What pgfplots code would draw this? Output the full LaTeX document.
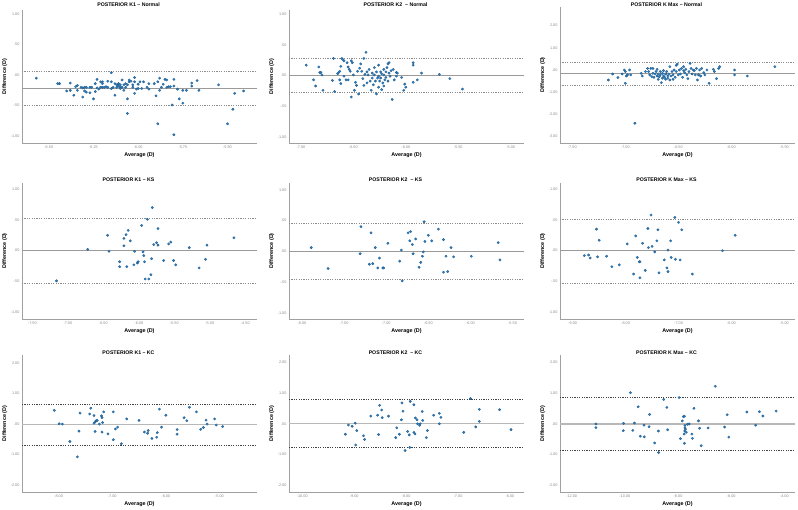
\documentclass[border=0pt]{standalone}
\usepackage{pgfplots}
\usepackage{pgfplotstable}
\pgfplotsset{compat=1.18}
\usepackage{fontspec}
\setmainfont{Liberation Sans}

\definecolor{ptblue}{HTML}{2E7EBE}
\definecolor{ptedge}{HTML}{1F5A8A}
\definecolor{axisgray}{HTML}{A0A0A0}
\definecolor{tickgray}{HTML}{8A8A8A}
\definecolor{meangray}{HTML}{9A9A9A}
\definecolor{loagray}{HTML}{8C8C8C}

% ---------- K1, Normal ----------
\pgfplotstableread{
x y
-6.57 -0.05
-6.45 -0.14
-6.44 -0.14
-6.40 -0.26
-6.38 -0.13
-6.38 -0.25
-6.36 -0.33
-6.35 -0.19
-6.34 -0.17
-6.34 -0.25
-6.32 -0.20
-6.31 -0.21
-6.31 -0.36
-6.30 -0.20
-6.30 -0.26
-6.29 -0.20
-6.29 -0.28
-6.27 -0.29
-6.27 -0.20
-6.26 -0.20
-6.25 -0.39
-6.24 -0.27
-6.24 -0.14
-6.23 -0.21
-6.23 -0.07
-6.22 -0.23
-6.21 -0.11
-6.21 -0.20
-6.20 -0.20
-6.20 -0.11
-6.20 -0.14
-6.19 -0.20
-6.18 -0.19
-6.17 -0.10
-6.17 -0.20
-6.15 0.04
-6.15 -0.22
-6.15 -0.11
-6.14 -0.20
-6.13 -0.33
-6.13 -0.14
-6.12 -0.20
-6.12 -0.16
-6.11 -0.14
-6.11 -0.18
-6.10 -0.20
-6.10 -0.16
-6.10 -0.22
-6.09 -0.08
-6.09 -0.20
-6.08 -0.16
-6.08 -0.25
-6.07 -0.20
-6.07 -0.14
-6.06 -0.63
-6.06 -0.16
-6.06 -0.39
-6.05 -0.11
-6.05 -0.08
-6.04 -0.10
-6.03 -0.20
-6.03 -0.16
-6.02 -0.04
-6.02 -0.11
-6.02 -0.30
-6.01 -0.23
-6.00 -0.15
-6.00 -0.22
-5.99 -0.11
-5.98 -0.22
-5.97 -0.11
-5.95 -0.20
-5.94 -0.14
-5.94 -0.23
-5.91 -0.14
-5.90 -0.34
-5.89 -0.11
-5.89 -0.80
-5.88 -0.25
-5.88 -0.05
-5.87 -0.20
-5.86 -0.15
-5.85 -0.07
-5.84 -0.20
-5.84 -0.08
-5.83 -0.19
-5.82 -0.19
-5.81 -0.49
-5.80 -0.18
-5.80 -0.07
-5.80 -0.98
-5.78 -0.23
-5.77 -0.39
-5.75 -0.25
-5.75 -0.46
-5.73 -0.25
-5.70 -0.13
-5.70 -0.18
-5.67 -0.09
-5.66 -0.25
-5.55 -0.16
-5.50 -0.80
-5.47 -0.56
-5.46 -0.30
-5.41 -0.26
}\KoneNormal

% ---------- K2, Normal ----------
\pgfplotstableread{
x y
-6.95 0.17
-6.88 -0.07
-6.86 -0.17
-6.83 0.14
-6.82 0.05
-6.81 0.05
-6.80 0.01
-6.79 -0.24
-6.70 -0.08
-6.69 0.28
-6.68 -0.26
-6.65 0.03
-6.64 0.05
-6.63 -0.07
-6.63 0.07
-6.62 0.15
-6.62 -0.13
-6.61 0.28
-6.60 0.26
-6.59 -0.01
-6.59 0.24
-6.57 -0.07
-6.56 0.21
-6.55 0.14
-6.55 -0.07
-6.54 0.10
-6.53 0.07
-6.52 0.24
-6.51 0.21
-6.52 -0.35
-6.50 0.01
-6.49 -0.24
-6.48 -0.11
-6.47 -0.16
-6.46 0.07
-6.45 -0.30
-6.44 0.12
-6.43 0.19
-6.42 0.07
-6.41 -0.05
-6.40 0.28
-6.40 -0.16
-6.39 0.02
-6.38 0.38
-6.37 0.06
-6.37 -0.12
-6.36 0.01
-6.35 0.10
-6.34 -0.09
-6.33 -0.24
-6.32 0.04
-6.32 -0.04
-6.31 -0.15
-6.30 0.13
-6.30 0.01
-6.29 -0.09
-6.28 0.06
-6.28 -0.30
-6.27 -0.04
-6.26 0.17
-6.26 -0.01
-6.26 -0.19
-6.25 -0.09
-6.24 0.06
-6.24 -0.04
-6.23 -0.23
-6.23 0.03
-6.22 -0.12
-6.21 0.10
-6.21 0.01
-6.21 -0.17
-6.20 -0.07
-6.19 0.06
-6.19 -0.03
-6.18 0.13
-6.17 -0.09
-6.17 0.19
-6.16 0.04
-6.16 0.21
-6.15 -0.01
-6.14 0.08
-6.13 -0.39
-6.12 0.10
-6.11 -0.07
-6.09 0.05
-6.09 -0.01
-6.08 0.04
-6.04 -0.03
-6.02 -0.24
-6.01 -0.14
-6.00 -0.19
-5.93 0.17
-5.93 0.21
-5.93 -0.11
-5.89 -0.07
-5.85 0.04
-5.68 0.02
-5.58 -0.05
-5.46 -0.22
}\KtwoNormal

% ---------- K Max, Normal ----------
\pgfplotstableread{
x y
-7.16 -0.45
-7.12 -0.18
-7.07 -0.34
-7.03 -0.18
-7.01 0.00
-7.00 -0.60
-7.00 -0.07
-6.99 -0.27
-6.98 -0.22
-6.96 0.00
-6.95 -0.22
-6.91 -2.40
-6.85 -0.15
-6.84 -0.27
-6.81 -0.07
-6.79 0.07
-6.78 -0.07
-6.77 -0.22
-6.76 0.07
-6.75 -0.30
-6.74 -0.15
-6.74 0.07
-6.73 -0.33
-6.72 -0.18
-6.71 -0.07
-6.70 -0.27
-6.70 0.03
-6.69 -0.42
-6.69 -0.18
-6.68 -0.30
-6.67 -0.07
-6.67 -0.22
-6.66 -0.57
-6.65 -0.37
-6.65 -0.15
-6.64 -0.03
-6.64 -0.27
-6.63 -0.33
-6.62 -0.18
-6.62 -0.42
-6.61 -0.07
-6.60 -0.27
-6.60 -0.37
-6.59 -0.18
-6.58 0.15
-6.58 -0.45
-6.57 -0.27
-6.56 -0.07
-6.55 -0.42
-6.55 -0.22
-6.54 0.00
-6.53 -0.33
-6.52 0.21
-6.52 -0.07
-6.51 0.27
-6.50 -0.22
-6.49 0.00
-6.48 -0.18
-6.47 0.07
-6.46 -0.33
-6.45 -0.03
-6.45 0.15
-6.44 -0.12
-6.43 0.03
-6.42 -0.22
-6.41 -0.39
-6.40 -0.07
-6.39 0.30
-6.38 0.07
-6.37 -0.18
-6.36 0.00
-6.35 -0.03
-6.34 -0.22
-6.33 0.07
-6.32 -0.45
-6.31 -0.22
-6.30 0.00
-6.29 -0.27
-6.28 0.07
-6.26 -0.12
-6.25 -0.22
-6.23 0.00
-6.21 -0.60
-6.17 0.03
-6.16 -0.07
-6.14 -0.39
-6.12 0.07
-6.11 0.15
-5.97 -0.22
-5.97 0.00
-5.85 -0.27
-5.59 0.15
}\KmaxNormal

% ---------- K1, KS ----------
\pgfplotstableread{
x y
-7.16 -0.49
-6.72 0.02
-6.44 0.25
-6.42 -0.01
-6.27 -0.18
-6.27 -0.26
-6.21 0.20
-6.21 0.08
-6.18 0.26
-6.17 -0.26
-6.15 0.33
-6.12 0.16
-6.07 -0.23
-6.06 -0.01
-6.02 -0.20
-6.01 -0.18
-5.96 0.41
-5.94 -0.02
-5.93 -0.08
-5.92 -0.18
-5.91 -0.46
-5.88 0.51
-5.86 -0.46
-5.83 -0.39
-5.82 -0.13
-5.81 0.70
-5.79 0.10
-5.75 0.13
-5.73 0.36
-5.73 0.09
-5.65 -0.16
-5.58 0.11
-5.55 0.14
-5.51 -0.16
-5.48 -0.23
-5.29 0.05
-5.15 -0.28
-5.06 -0.14
-5.04 0.09
-4.66 0.21
}\KoneKS

% ---------- K2, KS ----------
\pgfplotstableread{
x y
-7.89 0.06
-7.69 -0.28
-7.31 -0.04
-7.30 0.40
-7.20 -0.21
-7.18 0.30
-7.16 -0.20
-7.13 0.06
-7.10 -0.27
-7.08 -0.11
-7.04 -0.27
-7.03 -0.27
-6.98 0.13
-6.84 -0.16
-6.82 0.02
-6.81 -0.48
-6.74 0.30
-6.72 0.17
-6.71 0.32
-6.69 0.11
-6.68 -0.04
-6.65 0.20
-6.61 -0.26
-6.59 -0.18
-6.57 -0.08
-6.56 -0.01
-6.55 0.48
-6.54 0.16
-6.50 0.26
-6.46 0.17
-6.38 0.36
-6.32 0.19
-6.32 -0.34
-6.29 -0.08
-6.27 -0.33
-6.23 0.06
-6.20 -0.09
-5.99 -0.08
-5.67 0.14
-5.65 -0.14
}\KtwoKS

% ---------- K Max, KS ----------
\pgfplotstableread{
x y
-8.78 -0.08
-8.70 -0.07
-8.67 -0.12
-8.55 0.35
-8.53 -0.10
-8.50 0.17
-8.36 -0.09
-8.26 -0.26
-8.12 -0.23
-7.97 0.11
-7.85 -0.38
-7.81 0.24
-7.78 -0.11
-7.74 -0.18
-7.73 -0.18
-7.73 -0.44
-7.68 0.12
-7.63 -0.32
-7.58 0.36
-7.57 0.05
-7.52 0.58
-7.50 0.07
-7.45 -0.02
-7.41 0.16
-7.39 0.34
-7.37 -0.36
-7.27 -0.15
-7.22 -0.28
-7.20 -0.34
-7.20 0.01
-7.15 0.16
-7.14 -0.11
-7.07 0.54
-7.06 -0.14
-7.00 0.46
-6.97 -0.15
-6.94 0.34
-6.74 -0.38
-6.17 0.00
-5.93 0.25
}\KmaxKS

% ---------- K1, KC ----------
\pgfplotstableread{
x y
-8.08 0.45
-7.99 0.01
-7.93 0.00
-7.79 -0.57
-7.65 -1.07
-7.62 -0.23
-7.60 0.36
-7.42 0.33
-7.40 0.52
-7.34 0.28
-7.34 0.03
-7.32 0.07
-7.32 -0.24
-7.30 0.11
-7.28 0.12
-7.24 0.00
-7.20 0.27
-7.19 0.21
-7.19 -0.26
-7.18 0.05
-7.16 0.40
-7.08 -0.32
-6.98 0.40
-6.98 -0.51
-6.94 -0.16
-6.90 -0.10
-6.83 -0.64
-6.73 0.17
-6.50 0.12
-6.40 -0.26
-6.34 -0.30
-6.33 -0.21
-6.26 -0.47
-6.17 -0.43
-6.16 -0.28
-6.12 0.49
-6.08 -0.10
-6.00 0.29
-5.79 -0.18
-5.79 -0.33
-5.66 0.21
-5.61 0.11
-5.56 0.55
-5.43 0.40
-5.35 -0.17
-5.30 -0.11
-5.25 0.13
-5.23 0.00
-5.09 0.17
-5.06 -0.03
-4.94 -0.08
}\KoneKC

% ---------- K2, KC ----------
\pgfplotstableread{
x y
-9.17 -0.34
-9.11 -0.04
-9.04 -0.08
-8.98 0.02
-8.97 -0.69
-8.95 -0.22
-8.82 -0.39
-8.80 -0.51
-8.68 0.25
-8.55 0.28
-8.53 -0.35
-8.51 0.60
-8.47 0.45
-8.46 0.20
-8.34 0.25
-8.20 -0.45
-8.18 -0.13
-8.13 -0.34
-8.09 0.13
-8.08 0.68
-8.06 0.41
-8.02 -0.87
-7.97 -0.25
-7.94 -0.36
-7.93 -0.77
-7.92 0.73
-7.85 0.62
-7.85 -0.28
-7.83 -0.33
-7.82 0.19
-7.79 0.13
-7.78 0.00
-7.74 -0.05
-7.73 0.00
-7.69 0.40
-7.68 0.11
-7.61 -0.45
-7.59 -0.22
-7.47 0.28
-7.36 0.00
-7.36 0.34
-7.33 0.21
-6.89 -0.28
-6.76 0.82
-6.66 -0.10
-6.59 0.47
-6.59 0.08
-6.20 0.46
-5.98 -0.19
}\KtwoKC

% ---------- K Max, KC ----------
\pgfplotstableread{
x y
-11.09 0.00
-11.09 -0.12
-10.06 -0.22
-10.05 0.02
-9.79 1.02
-9.70 -0.21
-9.64 0.03
-9.50 0.56
-9.42 -0.40
-9.28 -0.04
-9.27 -0.42
-9.09 -0.09
-9.07 0.31
-8.88 -0.62
-8.74 -0.23
-8.73 -0.93
-8.54 0.80
-8.42 0.54
-8.39 -0.19
-7.96 0.86
-7.91 -0.48
-7.84 0.10
-7.80 0.24
-7.77 -0.33
-7.76 -0.63
-7.76 0.25
-7.75 -0.23
-7.74 -0.05
-7.74 -0.13
-7.72 -0.17
-7.69 -0.27
-7.64 -0.01
-7.58 0.00
-7.48 -0.33
-7.46 -0.47
-7.40 0.51
-7.23 0.10
-7.19 -0.14
-7.13 -0.71
-6.87 -0.13
-6.60 1.23
-6.25 -0.10
-6.15 0.30
-6.09 -0.43
-5.41 0.39
-5.08 -0.04
-4.94 0.40
-4.81 0.26
-4.31 0.42
}\KmaxKC

\pgfplotsset{
  ba/.style={
    scale only axis, anchor=south west, width=235pt,
    axis x line*=bottom, axis y line*=left,
    axis line style={-, draw=axisgray, line width=0.8pt},
    tick style={draw=none},
    tick label style={font=\fontsize{3.8}{4.5}\selectfont, text=tickgray},
    xticklabel style={yshift=1pt},
    yticklabel style={xshift=1pt},
    /pgf/number format/assume math mode=true,
    xlabel={Average (D)}, ylabel={Difference (D)},
    label style={font=\bfseries\fontsize{5.4}{6}\selectfont},
    xlabel style={at={(axis description cs:0.5,0)}, anchor=center, yshift=-12pt},
    ylabel style={at={(axis description cs:-0.074,0.5)}, anchor=center},
    title style={font=\bfseries\fontsize{5.2}{6}\selectfont,
                 at={(axis description cs:0.5,1)}, anchor=center, xshift=-11pt},
    clip=false,
  },
  pts/.style={only marks, mark=*, mark size=1.25pt,
              mark options={fill=ptblue, draw=ptedge, line width=0.25pt}},
  meanA/.style={meangray, line width=0.8pt},
  loaA/.style={loagray, line width=0.6pt, dash pattern=on 1.2pt off 1.2pt},
  meanB/.style={black!28, line width=1.1pt},
  loaB/.style={black!75, line width=0.9pt, dash pattern=on 1.2pt off 1.2pt},
}

\begin{document}
\begin{tikzpicture}
\useasboundingbox (0,0) rectangle (798pt,510pt);

% ===== Row 1: Normal =====
\begin{axis}[ba, at={(22pt,367pt)}, height=133pt,
  title={POSTERIOR K1 -- Normal}, title style={yshift=-0.6pt},
  xmin=-6.65, xmax=-5.335, ymin=-1.115, ymax=1.07,
  xtick={-6.5,-6.25,-6,-5.75,-5.5}, xticklabels={-6.50,-6.25,-6.00,-5.75,-5.50},
  ytick={-1,-0.5,0,0.5,1}, yticklabels={-1.00,-.50,.00,.50,1.00}]
\addplot[meanA] coordinates {(-6.65,-0.215) (-5.335,-0.215)};
\addplot[loaA] coordinates {(-6.65,0.066) (-5.335,0.066)};
\addplot[loaA] coordinates {(-6.65,-0.49) (-5.335,-0.49)};
\addplot[pts] table {\KoneNormal};
\end{axis}

\begin{axis}[ba, at={(289pt,367pt)}, height=133pt,
  title={POSTERIOR K2\ \ -- Normal}, title style={yshift=-0.6pt},
  xmin=-7.114, xmax=-4.873, ymin=-1.1, ymax=1.07,
  xtick={-7,-6.5,-6,-5.5,-5}, xticklabels={-7.00,-6.50,-6.00,-5.50,-5.00},
  ytick={-1,-0.5,0,0.5,1}, yticklabels={-1.00,-.50,.00,.50,1.00}]
\addplot[meanA] coordinates {(-7.114,0.005) (-4.873,0.005)};
\addplot[loaA] coordinates {(-7.114,0.28) (-4.873,0.28)};
\addplot[loaA] coordinates {(-7.114,-0.28) (-4.873,-0.28)};
\addplot[pts] table {\KtwoNormal};
\end{axis}

\begin{axis}[ba, at={(560pt,367pt)}, height=136pt,
  title={POSTERIOR K Max -- Normal}, title style={yshift=-3.9pt},
  xmin=-7.616, xmax=-5.4, ymin=-3.29, ymax=2.84,
  xtick={-7.5,-7,-6.5,-6,-5.5}, xticklabels={-7.50,-7.00,-6.50,-6.00,-5.50},
  ytick={-3,-2,-1,0,1,2}, yticklabels={-3.00,-2.00,-1.00,.00,1.00,2.00}]
\addplot[meanA] coordinates {(-7.616,-0.165) (-5.4,-0.165)};
\addplot[loaA] coordinates {(-7.616,0.36) (-5.4,0.36)};
\addplot[loaA] coordinates {(-7.616,-0.69) (-5.4,-0.69)};
\addplot[pts] table {\KmaxNormal};
\end{axis}

% ===== Row 2: KS =====
\begin{axis}[ba, at={(22pt,191pt)}, height=136pt,
  title={POSTERIOR K1 -- KS}, title style={yshift=-2.6pt},
  xmin=-7.646, xmax=-4.335, ymin=-1.11, ymax=1.10,
  xtick={-7.5,-7,-6.5,-6,-5.5,-5,-4.5},
  xticklabels={-7.50,-7.00,-6.50,-6.00,-5.50,-5.00,-4.50},
  ytick={-1,-0.5,0,0.5,1}, yticklabels={-1.00,-.50,.00,.50,1.00}]
\addplot[meanA] coordinates {(-7.646,0) (-4.335,0)};
\addplot[loaA] coordinates {(-7.646,0.52) (-4.335,0.52)};
\addplot[loaA] coordinates {(-7.646,-0.53) (-4.335,-0.53)};
\addplot[pts] table {\KoneKS};
\end{axis}

\begin{axis}[ba, at={(289pt,191pt)}, height=136pt,
  title={POSTERIOR K2\ \ -- KS}, title style={yshift=-2.6pt},
  xmin=-8.154, xmax=-5.364, ymin=-1.10, ymax=1.11,
  xtick={-8,-7.5,-7,-6.5,-6,-5.5},
  xticklabels={-8.00,-7.50,-7.00,-6.50,-6.00,-5.50},
  ytick={-1,-0.5,0,0.5,1}, yticklabels={-1.00,-.50,.00,.50,1.00}]
\addplot[meanA] coordinates {(-8.154,0) (-5.364,0)};
\addplot[loaA] coordinates {(-8.154,0.45) (-5.364,0.45)};
\addplot[loaA] coordinates {(-8.154,-0.455) (-5.364,-0.455)};
\addplot[pts] table {\KtwoKS};
\end{axis}

\begin{axis}[ba, at={(560pt,191pt)}, height=136pt,
  title={POSTERIOR K Max -- KS}, title style={yshift=-2.6pt},
  xmin=-9.24, xmax=-4.80, ymin=-1.11, ymax=1.10,
  xtick={-9,-8,-7,-6,-5}, xticklabels={-9.00,-8.00,-7.00,-6.00,-5.00},
  ytick={-1,-0.5,0,0.5,1}, yticklabels={-1.00,-.50,.00,.50,1.00}]
\addplot[meanA] coordinates {(-9.24,0) (-4.80,0)};
\addplot[loaA] coordinates {(-9.24,0.515) (-4.80,0.515)};
\addplot[loaA] coordinates {(-9.24,-0.525) (-4.80,-0.525)};
\addplot[pts] table {\KmaxKS};
\end{axis}

% ===== Row 3: KC =====
\begin{axis}[ba, at={(22pt,18pt)}, height=137pt,
  title={POSTERIOR K1 -- KC}, title style={yshift=-3.8pt},
  xmin=-8.683, xmax=-4.30, ymin=-2.22, ymax=2.26,
  xtick={-8,-7,-6,-5}, xticklabels={-8.00,-7.00,-6.00,-5.00},
  ytick={-2,-1,0,1,2}, yticklabels={-2.00,-1.00,.00,1.00,2.00}]
\addplot[meanB] coordinates {(-8.683,-0.02) (-4.30,-0.02)};
\addplot[loaB] coordinates {(-8.683,0.65) (-4.30,0.65)};
\addplot[loaB] coordinates {(-8.683,-0.685) (-4.30,-0.685)};
\addplot[pts] table {\KoneKC};
\end{axis}

\begin{axis}[ba, at={(289pt,18pt)}, height=137pt,
  title={POSTERIOR K2\ \ -- KC}, title style={yshift=-3.8pt},
  xmin=-10.255, xmax=-5.73, ymin=-2.22, ymax=2.24,
  xtick={-10,-9,-8,-7,-6}, xticklabels={-10.00,-9.00,-8.00,-7.00,-6.00},
  ytick={-2,-1,0,1,2}, yticklabels={-2.00,-1.00,.00,1.00,2.00}]
\addplot[meanB] coordinates {(-10.255,0) (-5.73,0)};
\addplot[loaB] coordinates {(-10.255,0.78) (-5.73,0.78)};
\addplot[loaB] coordinates {(-10.255,-0.76) (-5.73,-0.76)};
\addplot[pts] table {\KtwoKC};
\end{axis}

\begin{axis}[ba, at={(560pt,18pt)}, height=137pt,
  title={POSTERIOR K Max -- KC}, title style={yshift=-3.8pt},
  xmin=-12.44, xmax=-3.60, ymin=-2.22, ymax=2.25,
  xtick={-12,-10,-8,-6,-4}, xticklabels={-12.00,-10.00,-8.00,-6.00,-4.00},
  ytick={-2,-1,0,1,2}, yticklabels={-2.00,-1.00,.00,1.00,2.00}]
\addplot[meanB] coordinates {(-12.44,0) (-3.60,0)};
\addplot[loaB] coordinates {(-12.44,0.87) (-3.60,0.87)};
\addplot[loaB] coordinates {(-12.44,-0.85) (-3.60,-0.85)};
\addplot[pts] table {\KmaxKC};
\end{axis}
\end{tikzpicture}
\end{document}
